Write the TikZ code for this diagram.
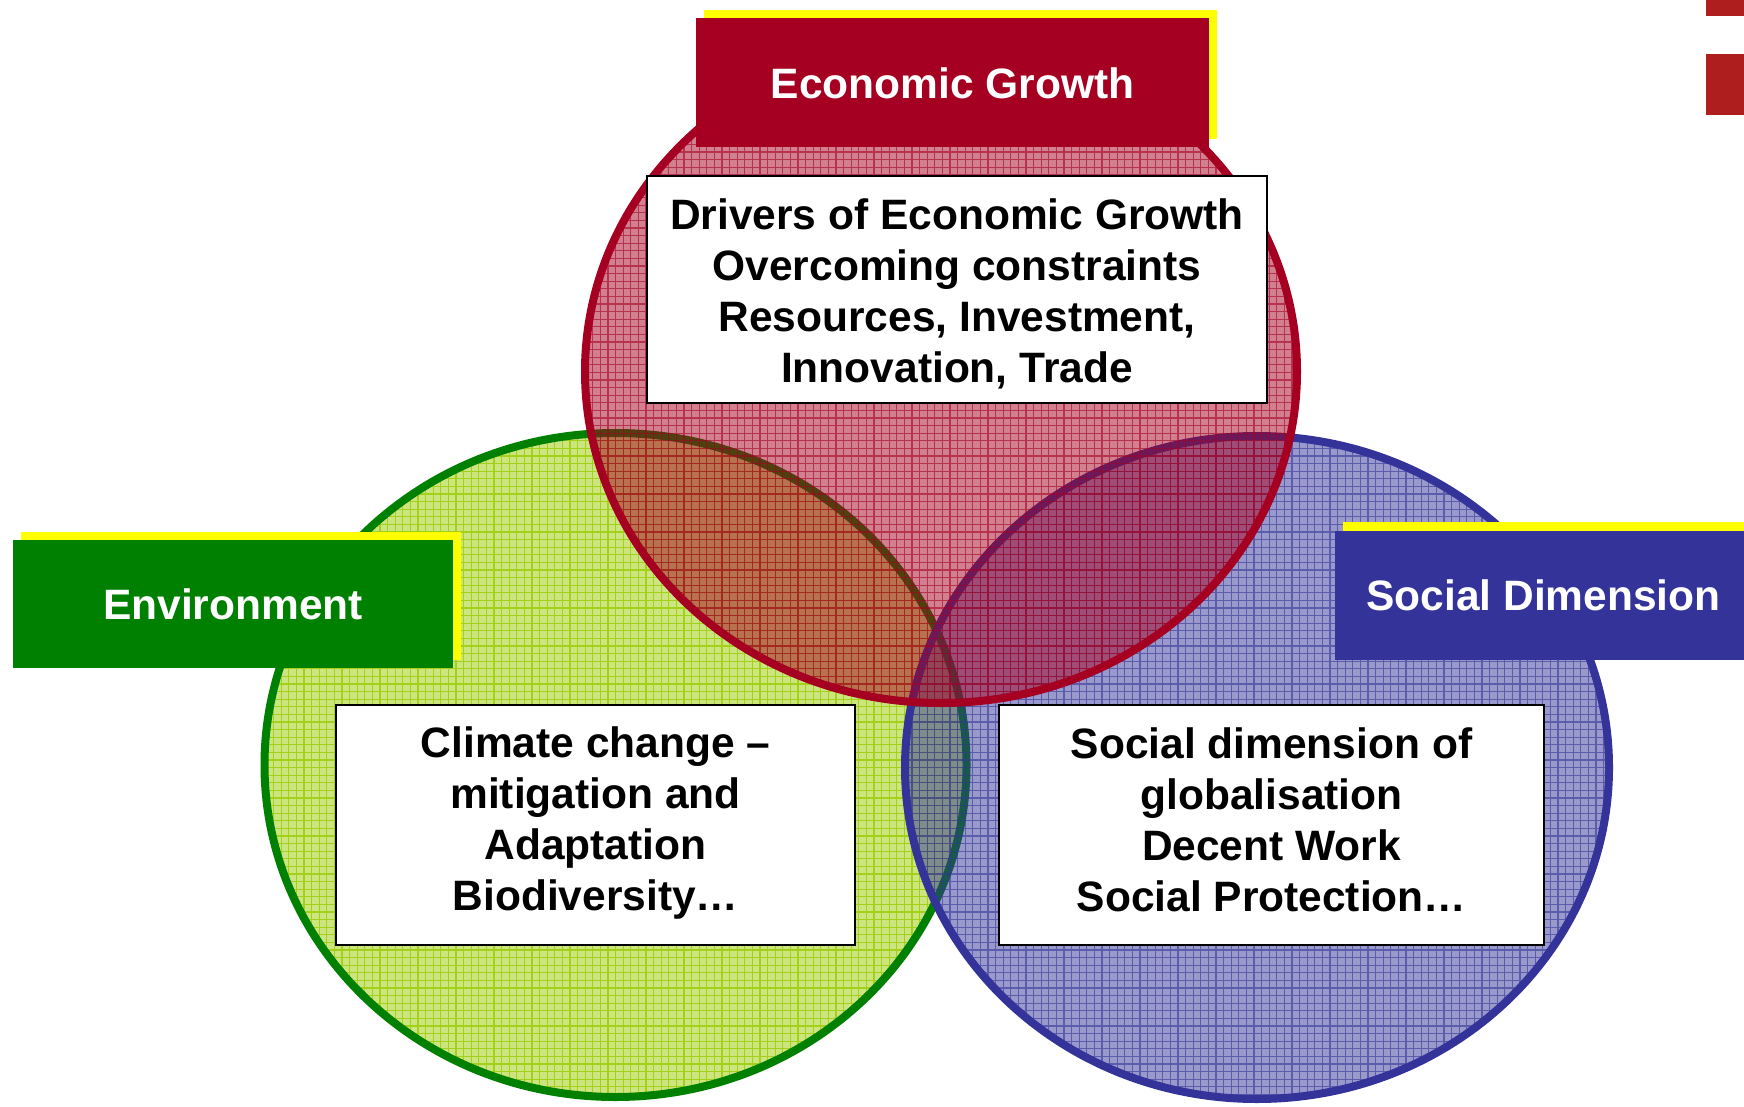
\documentclass[tikz,border=0pt]{standalone}
\usepackage{fontspec}
\setmainfont{Liberation Sans}
\definecolor{ecored}{HTML}{A50021}
\definecolor{envgreen}{HTML}{008000}
\definecolor{envpat}{HTML}{99CC00}
\definecolor{socblue}{HTML}{333399}
\definecolor{shadowyel}{HTML}{FFFF00}
\definecolor{cornerred}{HTML}{AE1E1E}
\begin{document}
\begin{tikzpicture}[x=1pt,y=-1pt,
  labelbox/.style={inner sep=0pt, text=white,
    font=\fontsize{42.5}{51}\selectfont\bfseries},
  textbox/.style={draw=black, line width=2.5pt, fill=white, inner sep=0pt},
  boxtext/.style={inner sep=0pt, align=center,
    font=\fontsize{42.5}{51}\selectfont\bfseries},
  gridlines/.style={line width=1.1pt, step=7.6pt},
  rim/.style={line width=8pt},
]
\useasboundingbox (0,0) rectangle (1744,1107);

% centres of the three sets
\coordinate (cenv) at (615.5,765);
\coordinate (csoc) at (1257,767.5);
\coordinate (cecon) at (941,371.5);

% Environment set
\fill[envpat, opacity=0.5] (cenv) ellipse [x radius=351pt, y radius=332pt];
\begin{scope}
  \clip (cenv) ellipse [x radius=351pt, y radius=332pt];
  \draw[gridlines, envpat, opacity=0.8] (0,0) grid (1744,1107);
\end{scope}
\draw[rim, envgreen] (cenv) ellipse [x radius=351pt, y radius=332pt];

% Social set
\fill[socblue, opacity=0.5] (csoc) ellipse [x radius=352pt, y radius=331.5pt];
\begin{scope}
  \clip (csoc) ellipse [x radius=352pt, y radius=331.5pt];
  \draw[gridlines, socblue, opacity=0.6] (0,0) grid (1744,1107);
\end{scope}
\draw[rim, socblue] (csoc) ellipse [x radius=352pt, y radius=331.5pt];

% Economic set
\fill[ecored, opacity=0.5] (cecon) ellipse [x radius=356pt, y radius=331.5pt];
\begin{scope}
  \clip (cecon) ellipse [x radius=356pt, y radius=331.5pt];
  \draw[gridlines, ecored, opacity=0.6] (0,0) grid (1744,1107);
\end{scope}
\draw[rim, ecored] (cecon) ellipse [x radius=356pt, y radius=331.5pt];

% content boxes
\node[textbox, minimum width=620pt, minimum height=227pt] (econbox) at (957,289.5) {};
\node[boxtext] (econtext) at (957,294)
  {Drivers of Economic Growth\\Overcoming constraints\\Resources, Investment,\\Innovation, Trade};
\node[textbox, minimum width=519pt, minimum height=240pt] (envbox) at (595.5,825) {};
\node[boxtext] (envtext) at (595.5,823)
  {Climate change --\\mitigation and\\Adaptation\\Biodiversity\dots};
\node[textbox, minimum width=545pt, minimum height=240pt] (socbox) at (1271.5,825) {};
\node[boxtext] (soctext) at (1271.5,819.5)
  {Social dimension of\\globalisation\\Decent Work\\Social Protection\dots};

% title labels with yellow offset shadow
\fill[shadowyel] (704,10) rectangle (1217,139);
\node[labelbox, fill=ecored, minimum width=513pt, minimum height=129pt] (econlabel) at (952.5,83) {Economic Growth};

\fill[shadowyel] (21,532) rectangle (461,660);
\node[labelbox, fill=envgreen, minimum width=440pt, minimum height=128pt] (envlabel) at (233,604) {Environment};

\fill[shadowyel] (1343,522) rectangle (1760,651);
\node[labelbox, fill=socblue, minimum width=417pt, minimum height=129pt] (soclabel) at (1543.5,595) {Social Dimension};

% corner marks
\fill[cornerred] (1706,0) rectangle (1744,16);
\fill[cornerred] (1706,54) rectangle (1744,115);
\end{tikzpicture}
\end{document}
